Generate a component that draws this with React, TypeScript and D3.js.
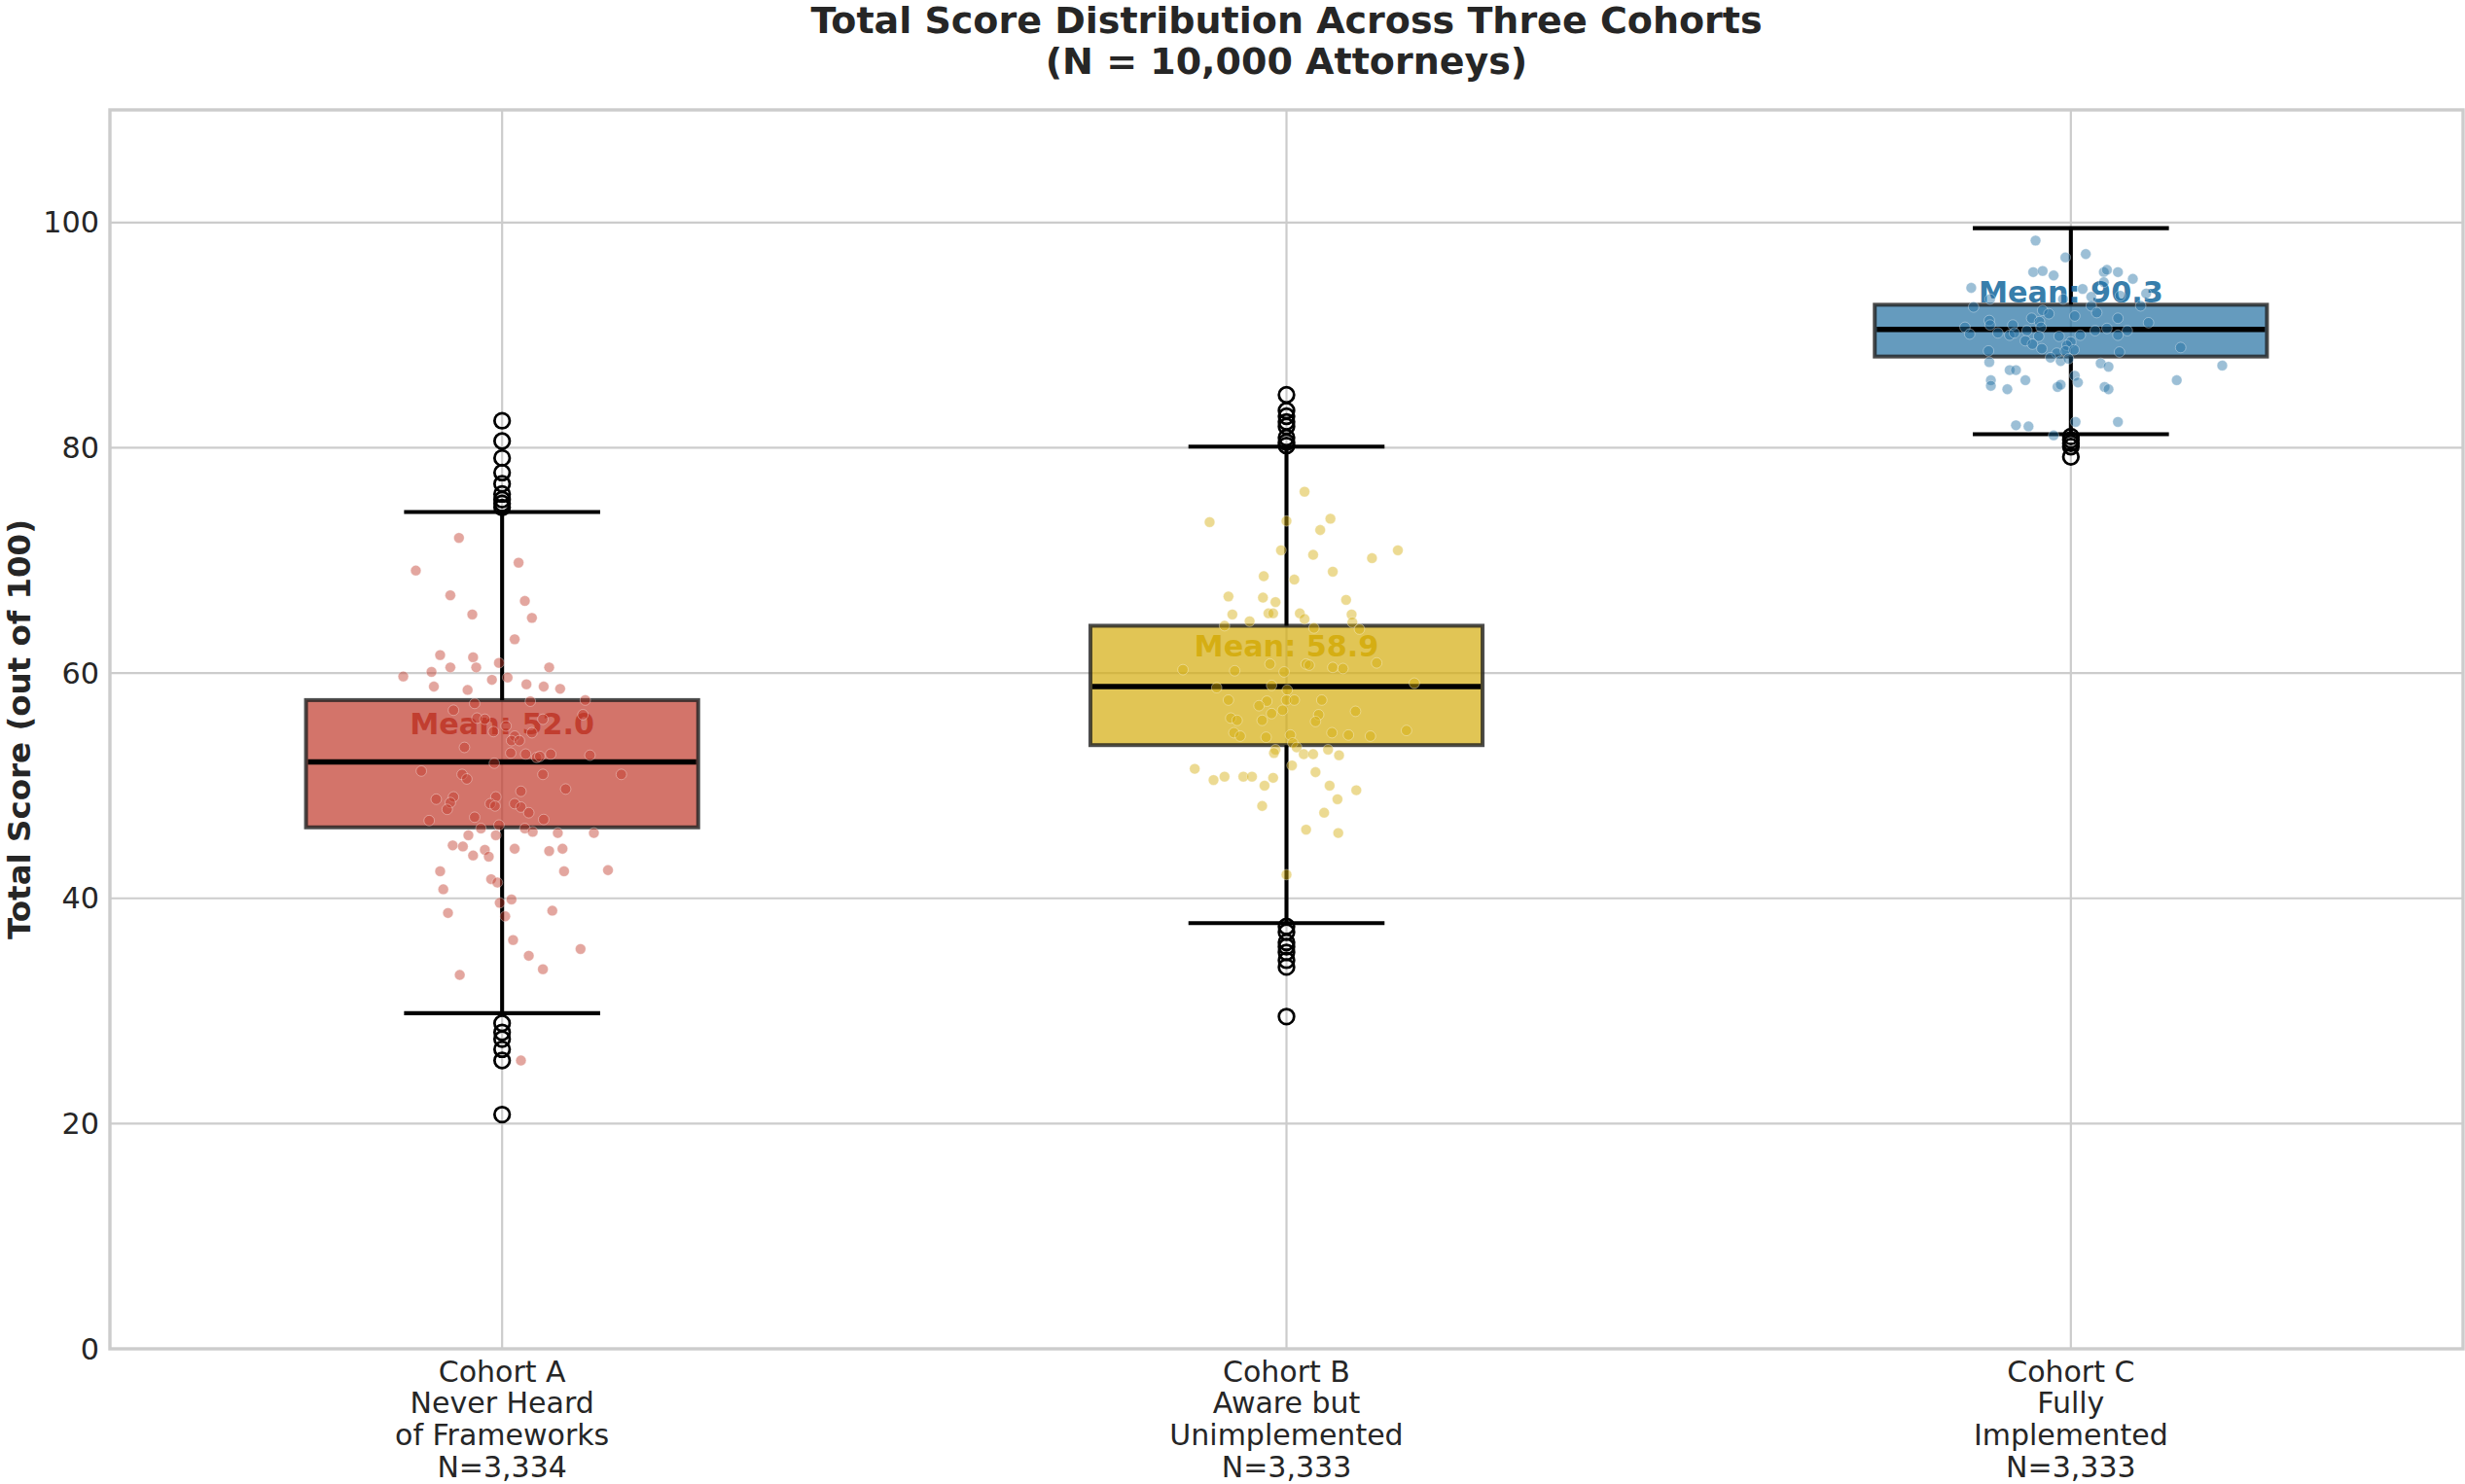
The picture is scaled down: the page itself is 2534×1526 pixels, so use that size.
import React, { useEffect } from "react";
import * as d3 from "d3";

const W = 2534;
const H = 1526;

const categories = ["Cohort A", "Cohort B", "Cohort C"];
const tickLabels = [
  ["Cohort A", "Never Heard", "of Frameworks", "N=3,334"],
  ["Cohort B", "Aware but", "Unimplemented", "N=3,333"],
  ["Cohort C", "Fully", "Implemented", "N=3,333"],
];
const colors = ["#C0392B", "#D4AC0D", "#2471A3"];
const q1 = [46.3, 53.6, 88.1];
const medians = [52.1, 58.8, 90.5];
const q3 = [57.6, 64.2, 92.7];
const whiskLo = [29.8, 37.8, 81.2];
const whiskHi = [74.3, 80.1, 99.5];
const means = [52.0, 58.9, 90.3];
const yTicks = [0, 20, 40, 60, 80, 100];

const outliersA = [82.4, 80.6, 79.1, 77.8, 76.8, 75.9, 75.4, 75.05, 74.7, 28.9, 28.1, 27.5, 26.6, 25.6, 20.8];
const outliersB = [84.7, 83.3, 82.8, 82.3, 81.9, 80.9, 80.5, 80.2, 37.5, 37.0, 36.1, 35.7, 35.2, 34.5, 33.9, 29.5];
const outliersC = [81.0, 80.7, 80.4, 80.1, 79.2];

// [jitter offset (category units), score]
const jitterA: [number, number][] = [
  [-0.055, 72.0], [-0.110, 69.1], [0.021, 69.8], [-0.066, 66.9], [0.029, 66.4], [-0.038, 65.2], [0.038, 64.9], [0.016, 63.0],
  [-0.079, 61.6], [-0.037, 61.4], [-0.004, 60.9], [-0.090, 60.1], [-0.066, 60.5], [-0.033, 60.5], [0.060, 60.5], [-0.126, 59.7],
  [-0.087, 58.8], [-0.013, 59.4], [0.007, 59.6], [0.031, 59.0], [0.053, 58.8], [0.074, 58.6], [-0.044, 58.5], [0.106, 57.6],
  [0.036, 57.5], [-0.035, 57.3], [-0.062, 56.7], [-0.032, 56.0], [-0.022, 55.9], [0.052, 55.9], [0.103, 56.3], [-0.011, 54.8],
  [0.005, 55.3], [0.016, 54.4], [0.012, 54.0], [0.022, 54.0], [0.038, 54.7], [-0.048, 53.4], [0.011, 52.9], [0.030, 52.8],
  [0.044, 52.5], [0.062, 52.8], [0.112, 52.7], [0.048, 52.6], [-0.010, 52.0], [-0.103, 51.3], [-0.051, 51.0], [-0.045, 50.6],
  [0.052, 51.0], [0.152, 51.0], [0.081, 49.7], [0.024, 49.5], [-0.084, 48.8], [-0.062, 49.0], [-0.066, 48.5], [-0.008, 49.0],
  [-0.015, 48.4], [-0.009, 48.2], [0.016, 48.4], [0.024, 48.1], [-0.070, 47.9], [0.034, 47.6], [-0.035, 47.2], [0.053, 47.0],
  [-0.093, 46.9], [-0.004, 46.5], [-0.027, 46.2], [0.029, 46.2], [0.039, 45.9], [-0.008, 45.6], [-0.043, 45.6], [0.071, 45.8],
  [0.117, 45.8], [-0.063, 44.7], [-0.050, 44.6], [-0.022, 44.3], [0.016, 44.4], [0.060, 44.2], [0.077, 44.4], [-0.037, 43.8],
  [-0.017, 43.7], [-0.079, 42.4], [0.079, 42.4], [0.135, 42.5], [-0.075, 40.8], [-0.014, 41.7], [-0.006, 41.4], [0.012, 39.9],
  [-0.003, 39.6], [-0.069, 38.7], [0.064, 38.9], [0.004, 38.4], [0.014, 36.3], [0.034, 34.9], [0.100, 35.5], [0.052, 33.7],
  [-0.054, 33.2], [0.024, 25.6],
];
const jitterB: [number, number][] = [
  [0.023, 76.1], [-0.098, 73.4], [0.000, 73.5], [0.056, 73.7], [0.043, 72.7], [-0.007, 70.9], [0.034, 70.5], [0.109, 70.2],
  [0.142, 70.9], [-0.029, 68.6], [0.010, 68.3], [0.059, 69.0], [-0.074, 66.8], [-0.030, 66.7], [-0.014, 66.3], [0.076, 66.5],
  [-0.069, 65.2], [-0.023, 65.3], [-0.017, 65.3], [0.017, 65.3], [0.023, 64.8], [0.083, 65.2], [-0.047, 64.6], [0.084, 64.5],
  [-0.079, 64.2], [0.035, 64.0], [0.093, 63.9], [-0.021, 60.8], [0.025, 60.8], [0.029, 60.7], [0.059, 60.5], [0.072, 60.4],
  [0.115, 60.9], [-0.132, 60.3], [-0.066, 60.2], [-0.003, 60.1], [-0.089, 58.7], [-0.019, 58.9], [0.001, 58.5], [0.163, 59.1],
  [-0.074, 57.6], [-0.025, 57.5], [0.000, 57.6], [0.010, 57.6], [0.045, 57.6], [-0.035, 57.1], [-0.019, 56.4], [-0.005, 56.7],
  [0.041, 56.3], [0.088, 56.6], [-0.071, 56.0], [-0.063, 55.8], [-0.031, 55.8], [0.037, 55.7], [-0.067, 54.7], [-0.059, 54.4],
  [-0.026, 54.3], [0.005, 54.5], [0.058, 54.7], [0.079, 54.5], [0.107, 54.4], [0.153, 54.9], [0.008, 53.8], [0.013, 53.4],
  [-0.014, 53.2], [-0.016, 52.9], [0.022, 52.8], [0.034, 52.8], [0.053, 53.2], [0.067, 52.7], [0.007, 51.8], [-0.117, 51.5],
  [-0.093, 50.5], [-0.079, 50.8], [-0.055, 50.8], [-0.044, 50.8], [-0.017, 50.7], [-0.028, 50.0], [0.037, 51.2], [0.055, 50.0],
  [0.089, 49.6], [0.065, 48.8], [-0.031, 48.2], [0.048, 47.6], [0.025, 46.1], [0.066, 45.8], [0.000, 42.1],
];
const jitterC: [number, number][] = [
  [-0.045, 98.4], [0.019, 97.2], [-0.007, 96.9], [-0.048, 95.6], [-0.036, 95.7], [-0.022, 95.3], [0.042, 95.6], [0.046, 95.8],
  [0.060, 95.6], [0.079, 95.0], [-0.127, 94.2], [0.042, 94.7], [0.015, 94.1], [0.096, 93.7], [-0.103, 93.2], [-0.010, 93.2],
  [0.026, 93.4], [0.063, 93.5], [-0.124, 92.5], [-0.036, 92.2], [-0.028, 91.9], [0.026, 92.6], [0.033, 92.0], [0.089, 92.6],
  [0.005, 91.7], [-0.050, 91.5], [0.060, 91.5], [-0.104, 91.3], [-0.040, 91.2], [0.099, 91.1], [-0.103, 90.9], [-0.074, 90.9],
  [-0.135, 90.7], [-0.038, 90.7], [0.031, 90.4], [0.046, 90.6], [0.072, 90.4], [-0.129, 90.1], [-0.093, 90.2], [-0.078, 90.0],
  [-0.072, 90.2], [-0.056, 90.4], [-0.041, 89.9], [-0.015, 89.9], [0.012, 90.0], [0.060, 90.0], [-0.058, 89.5], [-0.049, 89.2],
  [0.000, 89.4], [-0.005, 89.1], [-0.037, 88.8], [0.140, 88.9], [-0.105, 88.6], [-0.018, 88.4], [-0.007, 88.6], [0.004, 88.7],
  [0.062, 88.5], [-0.026, 88.0], [-0.013, 87.7], [-0.003, 87.9], [-0.104, 87.6], [0.038, 87.5], [0.048, 87.2], [-0.078, 86.9],
  [-0.070, 86.9], [0.193, 87.3], [-0.102, 86.0], [-0.058, 86.0], [0.005, 86.4], [0.009, 85.8], [0.135, 86.0], [-0.102, 85.5],
  [-0.081, 85.2], [-0.017, 85.4], [-0.013, 85.6], [0.043, 85.4], [0.048, 85.2], [-0.070, 82.0], [-0.054, 81.9], [0.006, 82.3],
  [0.060, 82.3], [-0.022, 81.1],
];

const outliers = [outliersA, outliersB, outliersC];
const jitters = [jitterA, jitterB, jitterC];

const FONT = "'DejaVu Sans', 'Liberation Sans', sans-serif";
const TEXT = "#262626";
const GRID = "#cccccc";

const M = { left: 113, right: 2532, top: 113, bottom: 1387 };

export default function App() {
  useEffect(() => {
    document.body.style.margin = "0";
  }, []);

  const x = d3.scaleLinear().domain([-0.5, 2.5]).range([M.left, M.right]);
  const y = d3.scaleLinear().domain([0, 110]).range([M.bottom, M.top]);
  const boxW = 0.5;
  const capW = 0.25;
  const centerX = (M.left + M.right) / 2;

  return (
    <svg width={W} height={H} style={{ position: "absolute", left: 0, top: 0, background: "#fff" }} fontFamily={FONT}>
      <rect x={0} y={0} width={W} height={H} fill="#ffffff" />
      {/* grid */}
      {yTicks.map((t) => (
        <line key={"gy" + t} x1={M.left} x2={M.right} y1={y(t)} y2={y(t)} stroke={GRID} strokeWidth={2.2} />
      ))}
      {categories.map((c, i) => (
        <line key={"gx" + c} x1={x(i)} x2={x(i)} y1={M.top} y2={M.bottom} stroke={GRID} strokeWidth={2.2} />
      ))}
      {/* spines */}
      <rect x={M.left} y={M.top} width={M.right - M.left} height={M.bottom - M.top} fill="none" stroke={GRID} strokeWidth={3.4} />

      {/* boxes */}
      {categories.map((c, i) => {
        const cx = x(i);
        const bx0 = x(i - boxW / 2);
        const bx1 = x(i + boxW / 2);
        const cx0 = x(i - capW / 2);
        const cx1 = x(i + capW / 2);
        return (
          <g key={"box" + c}>
            <rect x={bx0} y={y(q3[i])} width={bx1 - bx0} height={y(q1[i]) - y(q3[i])} fill={colors[i]} fillOpacity={0.7} stroke="#1f1f1f" strokeOpacity={0.8} strokeWidth={4} />
            <line x1={bx0 + 2} x2={bx1 - 2} y1={y(medians[i])} y2={y(medians[i])} stroke="#000" strokeWidth={5.5} />
            <line x1={cx} x2={cx} y1={y(q3[i])} y2={y(whiskHi[i])} stroke="#000" strokeWidth={4.1} />
            <line x1={cx} x2={cx} y1={y(q1[i])} y2={y(whiskLo[i])} stroke="#000" strokeWidth={4.1} />
            <line x1={cx0} x2={cx1} y1={y(whiskHi[i])} y2={y(whiskHi[i])} stroke="#000" strokeWidth={4.1} />
            <line x1={cx0} x2={cx1} y1={y(whiskLo[i])} y2={y(whiskLo[i])} stroke="#000" strokeWidth={4.1} />
            {outliers[i].map((v, k) => (
              <circle key={k} cx={cx} cy={y(v)} r={7.8} fill="none" stroke="#000" strokeWidth={2.75} />
            ))}
            <text x={cx} y={y(means[i] + 3.5)} textAnchor="middle" dominantBaseline="central" fontSize={30.25} fontWeight="bold" fill={colors[i]} fillOpacity={0.92}>
              {"Mean: " + means[i].toFixed(1)}
            </text>
            {jitters[i].map(([o, v], k) => (
              <circle key={"j" + k} cx={x(i + o)} cy={y(v)} r={5.4} fill={colors[i]} fillOpacity={0.45} stroke="#ffffff" strokeOpacity={0.35} strokeWidth={1} />
            ))}
          </g>
        );
      })}

      {/* y ticks */}
      {yTicks.map((t) => (
        <text key={"yt" + t} x={102} y={y(t)} textAnchor="end" dominantBaseline="central" fontSize={30.25} fill={TEXT}>
          {t}
        </text>
      ))}
      {/* x tick labels */}
      {tickLabels.map((lines, i) => (
        <text key={"xt" + i} x={x(i)} y={1420.5} textAnchor="middle" fontSize={30} fill={TEXT}>
          {lines.map((ln, k) => (
            <tspan key={k} x={x(i)} y={1420.5 + k * 32.8}>
              {ln}
            </tspan>
          ))}
        </text>
      ))}
      {/* y label */}
      <text transform={`translate(20, ${(M.top + M.bottom) / 2}) rotate(-90)`} textAnchor="middle" dominantBaseline="central" fontSize={32.5} fontWeight="bold" fill={TEXT}>
        Total Score (out of 100)
      </text>
      {/* title */}
      <text x={centerX} y={34} textAnchor="middle" fontSize={38} fontWeight="bold" fill={TEXT}>
        Total Score Distribution Across Three Cohorts
      </text>
      <text x={centerX} y={75.5} textAnchor="middle" fontSize={38} fontWeight="bold" fill={TEXT}>
        (N = 10,000 Attorneys)
      </text>
    </svg>
  );
}
